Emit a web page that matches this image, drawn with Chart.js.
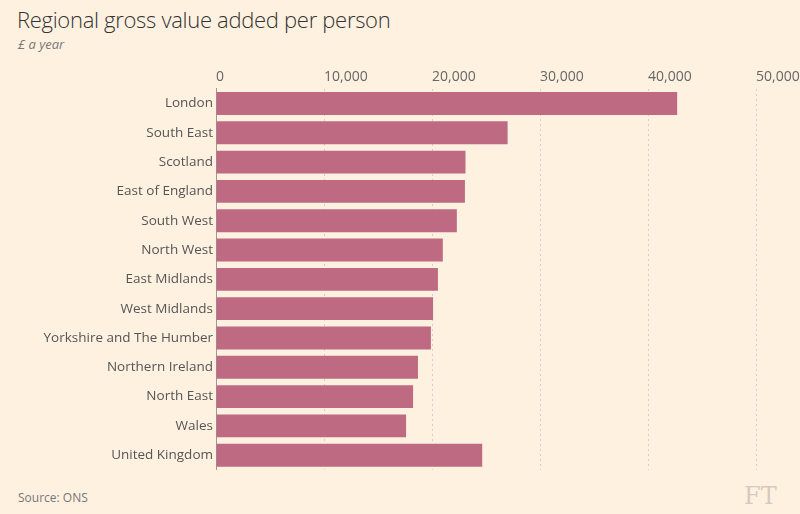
<!DOCTYPE html>
<html><head><meta charset="utf-8">
<script src="https://cdn.jsdelivr.net/npm/chart.js@4"></script>
<style>
body{margin:0;background:#fff1e0;width:800px;height:514px;overflow:hidden;position:relative;font-family:"Open Sans",sans-serif}
#title{position:absolute;left:17px;top:4px;font-size:22px;color:#333;font-weight:300;letter-spacing:-0.3px}
#sub{position:absolute;left:18px;top:35px;font-size:13px;color:#777;font-style:italic}
#src{position:absolute;left:18px;top:489px;font-size:12px;color:#777}
#ft{position:absolute;left:744px;top:482px;font-size:24px;color:#d6cbbf;font-family:"DejaVu Serif",serif}
#wrap{position:absolute;left:0;top:66px;width:830px;height:412px}
</style></head><body>
<div id="title">Regional gross value added per person</div>
<div id="sub">£ a year</div>
<div id="wrap"><canvas id="c"></canvas></div>
<div id="src">Source: ONS</div>
<div id="ft">FT</div>
<script>
// Data
const regions = ['London','South East','Scotland','East of England','South West','North West','East Midlands','West Midlands','Yorkshire and The Humber','Northern Ireland','North East','Wales','United Kingdom'];
const gvaPerPerson = [42700,27000,23100,23050,22300,21000,20550,20100,19900,18700,18250,17600,24650];

new Chart(document.getElementById('c'), {
    type: 'bar',
    data: {
        labels: regions,
        datasets: [{
            data: gvaPerPerson,
            backgroundColor: '#bd6a82',
            barPercentage: 0.78,
            categoryPercentage: 1
        }]
    },
    options: {
        indexAxis: 'y',
        responsive: true,
        maintainAspectRatio: false,
        animation: false,
        layout: { padding: { left: 0, right: 74, top: 0, bottom: 0 } },
        plugins: { legend: { display: false }, tooltip: { enabled: false } },
        scales: {
            x: {
                position: 'top',
                min: 0, max: 50000,
                ticks: {
                    stepSize: 10000,
                    align: 'start',
                    color: '#666',
                    font: { family: 'Open Sans', size: 14 },
                    callback: v => v.toLocaleString('en-GB')
                },
                grid: {
                    color: c => c.tick.value === 0 ? 'rgba(0,0,0,0)' : '#d8cfc4',
                    drawTicks: false
                },
                border: { display: false, dash: [2, 3] }
            },
            y: {
                afterFit: s => { s.width = 216; },
                ticks: { color: '#555', font: { family: 'Open Sans', size: 13.5 }, padding: 0 },
                grid: { display: false, tickLength: 3 },
                border: { display: true, color: '#999' }
            }
        }
    }
});
</script>
</body></html>
